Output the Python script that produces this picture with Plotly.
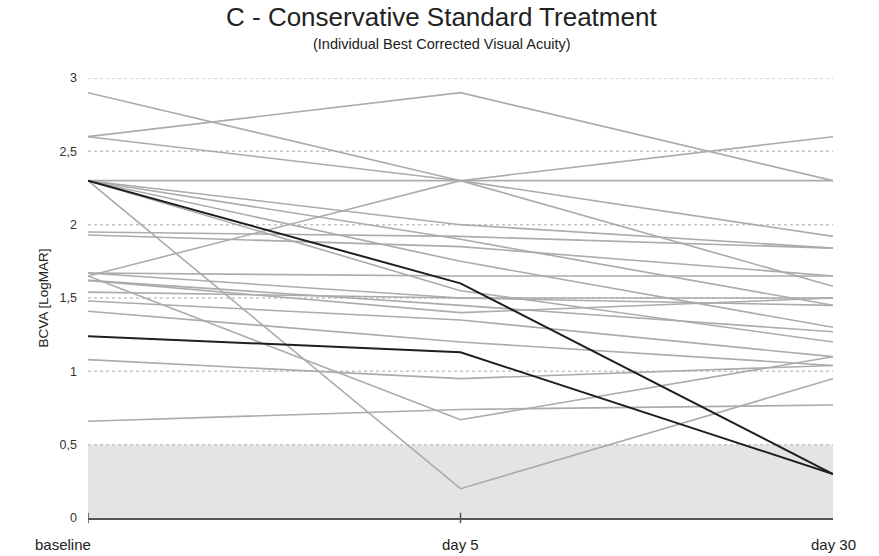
import plotly.graph_objects as go

timepoints = ["baseline", "day 5", "day 30"]
x_pos = [0, 1, 2]

# BCVA (LogMAR) per patient: [baseline, day 5, day 30]
gray_patients = [
    [2.9, 2.3, 2.6],
    [2.6, 2.9, 2.3],
    [2.6, 2.3, 1.92],
    [2.3, 2.3, 2.3],
    [2.3, 0.2, 0.95],
    [2.3, 2.0, 1.84],
    [2.3, 1.9, 1.45],
    [2.3, 1.75, 1.3],
    [2.3, 1.55, 1.2],
    [1.95, 1.92, 1.84],
    [1.93, 1.85, 1.65],
    [1.65, 2.3, 1.58],
    [1.67, 1.5, 1.5],
    [1.62, 1.45, 1.27],
    [1.54, 1.5, 1.45],
    [1.48, 1.35, 1.1],
    [1.41, 1.2, 1.04],
    [1.08, 0.95, 1.04],
    [0.66, 0.74, 0.77],
    [1.65, 0.67, 1.1],
    [1.67, 1.65, 1.65],
    [1.62, 1.4, 1.5],
]
dark_patients = [
    [2.3, 1.6, 0.3],
    [1.24, 1.13, 0.3],
]

y_tickvals = [0, 0.5, 1, 1.5, 2, 2.5, 3]
y_ticktext = ["0", "0,5", "1", "1,5", "2", "2,5", "3"]
grid_vals = [0.5, 1, 1.5, 2, 2.5, 3]

fig = go.Figure()

for p in gray_patients:
    fig.add_trace(go.Scatter(x=x_pos, y=p, mode="lines",
                             line=dict(color="#ababab", width=1.6),
                             showlegend=False, hoverinfo="skip"))
for p in dark_patients:
    fig.add_trace(go.Scatter(x=x_pos, y=p, mode="lines",
                             line=dict(color="#1e1e1e", width=2),
                             showlegend=False, hoverinfo="skip"))

shapes = [dict(type="rect", xref="x", yref="y", x0=0, x1=2, y0=0, y1=0.5,
               fillcolor="#e4e4e4", line=dict(width=0), layer="below")]
for g in grid_vals:
    shapes.append(dict(type="line", xref="x", yref="y", x0=0, x1=2, y0=g, y1=g,
                       line=dict(color="#c4c4c4", width=1.5, dash="dot"), layer="below"))
shapes.append(dict(type="line", xref="x", yref="paper", x0=0, x1=0, y0=-0.012, y1=0.012,
                   line=dict(color="#555", width=1.5)))
shapes.append(dict(type="line", xref="x", yref="paper", x0=1, x1=1, y0=-0.012, y1=0.012,
                   line=dict(color="#555", width=1.5)))

annotations = [
    dict(text="C - Conservative Standard Treatment", xref="paper", yref="paper",
         x=0.475, y=1.0, yanchor="bottom", yshift=44, showarrow=False,
         font=dict(size=26, color="#222")),
    dict(text="(Individual Best Corrected Visual Acuity)", xref="paper", yref="paper",
         x=0.475, y=1.0, yanchor="bottom", yshift=24, showarrow=False,
         font=dict(size=14.5, color="#222")),
    dict(text="baseline", xref="x", yref="paper", x=0, y=0, xshift=-25, yshift=-16,
         yanchor="top", showarrow=False, font=dict(size=15, color="#222")),
    dict(text="day 5", xref="x", yref="paper", x=1, y=0, yshift=-16,
         yanchor="top", showarrow=False, font=dict(size=15, color="#222")),
    dict(text="day 30", xref="x", yref="paper", x=2, y=0, yshift=-16,
         yanchor="top", showarrow=False, font=dict(size=15, color="#222")),
]

fig.update_layout(
    width=879, height=556,
    margin=dict(l=88, r=46, t=78, b=38),
    paper_bgcolor="white", plot_bgcolor="white",
    font=dict(family="Liberation Sans, Arial, sans-serif", color="#333"),
    shapes=shapes, annotations=annotations,
    xaxis=dict(range=[0, 2], showgrid=False, zeroline=False, showticklabels=False,
               showline=True, linecolor="#555", linewidth=1.5, fixedrange=True),
    yaxis=dict(range=[0, 3.0], showgrid=False, zeroline=False,
               tickvals=y_tickvals, ticktext=y_ticktext,
               tickfont=dict(size=12.5, color="#333"), ticklabelstandoff=10,
               title=dict(text="BCVA [LogMAR]", font=dict(size=13.5, color="#222"), standoff=7)),
)

fig.write_html("out.html")
